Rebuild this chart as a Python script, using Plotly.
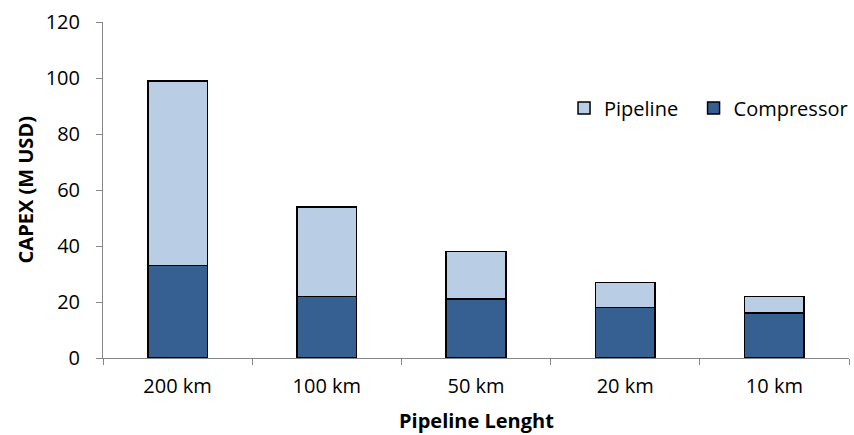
import plotly.graph_objects as go

categories = ["200 km", "100 km", "50 km", "20 km", "10 km"]
compressor = [33, 22, 21, 18, 16]
pipeline = [66, 32, 17, 9, 6]
y_ticks = [0, 20, 40, 60, 80, 100, 120]

FONT = "Open Sans"
FS = 20

fig = go.Figure()
fig.add_trace(go.Bar(
    x=categories, y=compressor, name="Compressor",
    marker=dict(color="#376092", line=dict(color="#000000", width=1.5)),
    width=0.4,
))
fig.add_trace(go.Bar(
    x=categories, y=pipeline, name="Pipeline\u00a0\u00a0",
    marker=dict(color="#B9CDE5", line=dict(color="#000000", width=1.5)),
    width=0.4,
))

fig.update_layout(
    width=854, height=435,
    barmode="stack",
    plot_bgcolor="white", paper_bgcolor="white",
    margin=dict(l=103, r=1, t=22, b=77),
    font=dict(family=FONT, size=FS, color="#000000"),
    showlegend=True,
    legend=dict(
        orientation="h", traceorder="reversed",
        x=0.618, y=0.744, xanchor="left", yanchor="middle",
        font=dict(family=FONT, size=FS, color="#000000"),
        bgcolor="rgba(0,0,0,0)",
    ),
    xaxis=dict(
        type="category", automargin=False,
        showline=True, linecolor="#868686", linewidth=1,
        ticks="outside", ticklen=6, tickcolor="#868686", tickson="boundaries",
        showgrid=False, zeroline=False,
        tickfont=dict(family=FONT, size=FS),
        ticklabelstandoff=10,
        range=[-0.5, 4.5],
    ),
    yaxis=dict(
        range=[0, 120], tickvals=y_ticks, automargin=False,
        showline=True, linecolor="#868686", linewidth=1,
        ticks="outside", ticklen=6, tickcolor="#868686",
        showgrid=False, zeroline=False,
        tickfont=dict(family=FONT, size=FS),
        ticklabelstandoff=12,
    ),
    annotations=[
        dict(text="<b>Pipeline Lenght</b>", xref="paper", yref="paper",
             x=0.5, y=-0.186, xanchor="center", yanchor="middle",
             showarrow=False, font=dict(family=FONT, size=FS)),
        dict(text="<b>CAPEX (M USD)</b>", xref="paper", yref="paper",
             x=-0.104, y=0.5, xanchor="center", yanchor="middle", textangle=-90,
             showarrow=False, font=dict(family=FONT, size=FS)),
    ],
)

fig.write_html(
    "out.html",
    config={"displayModeBar": False},
    post_script="document.body.style.margin='0';document.body.style.padding='0';",
)
